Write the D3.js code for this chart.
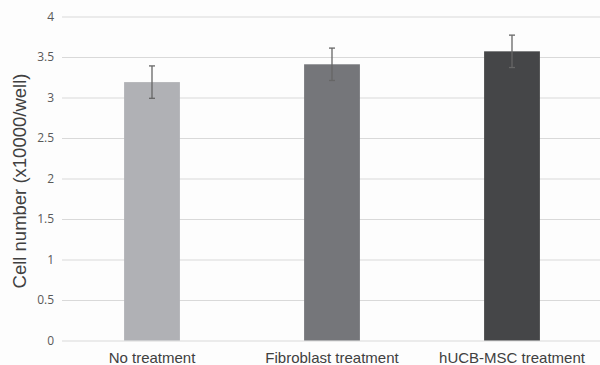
<!DOCTYPE html>
<html><head><meta charset="utf-8">
<script src="https://cdn.jsdelivr.net/npm/d3@7"></script>
<style>body{margin:0;background:#fdfdfd;}svg{display:block;}</style>
</head><body>
<script>
const categories = ["No treatment", "Fibroblast treatment", "hUCB-MSC treatment"];
const values = [3.19, 3.41, 3.57];
const errors = [0.2, 0.2, 0.2];
const colors = ["#b0b1b5", "#75767a", "#454648"];
const yTicks = [0, 0.5, 1, 1.5, 2, 2.5, 3, 3.5, 4];
const yTitle = "Cell number (x10000/well)";

const W = 600, H = 365;
const svg = d3.select("body").append("svg").attr("width", W).attr("height", H);
svg.append("rect").attr("width", W).attr("height", H).attr("fill", "#fdfdfd");

const x = d3.scaleBand().domain(categories).range([62, 602]).paddingInner(0.69).paddingOuter(0.345);
const y = d3.scaleLinear().domain([0, 4]).range([340.5, 16.5]);

const yAxis = svg.append("g").attr("transform", "translate(62,0)")
  .call(d3.axisLeft(y).tickValues(yTicks).tickSize(-540).tickFormat(d3.format("")).tickPadding(8));
yAxis.select(".domain").remove();
yAxis.selectAll("line").attr("stroke", "#d9d9d9").attr("stroke-width", 1.2);
yAxis.selectAll("text").attr("fill", "#595959").attr("font-family", "Open Sans").attr("font-size", "12px");

svg.selectAll("rect.bar").data(categories).enter().append("rect").attr("class", "bar")
  .attr("x", d => x(d)).attr("width", x.bandwidth())
  .attr("y", (d, i) => y(values[i])).attr("height", (d, i) => y(0) - y(values[i]))
  .attr("fill", (d, i) => colors[i]);

const eb = svg.append("g").attr("stroke", "#666").attr("stroke-width", 1.3);
categories.forEach((c, i) => {
  const cx = x(c) + x.bandwidth() / 2;
  eb.append("line").attr("x1", cx).attr("x2", cx).attr("y1", y(values[i] + errors[i])).attr("y2", y(values[i] - errors[i]));
  [values[i] + errors[i], values[i] - errors[i]].forEach(v => {
    eb.append("line").attr("x1", cx - 3).attr("x2", cx + 3).attr("y1", y(v)).attr("y2", y(v));
  });
});

const xAxis = svg.append("g").attr("transform", `translate(0,${y(0)})`)
  .call(d3.axisBottom(x).tickSize(0).tickPadding(11.5));
xAxis.select(".domain").remove();
xAxis.selectAll("text").attr("fill", "#404040").attr("font-family", "'Liberation Sans', Arial, sans-serif").attr("font-size", "15px");

svg.append("text").attr("transform", "translate(26,181) rotate(-90)")
  .attr("text-anchor", "middle").attr("fill", "#404040")
  .attr("font-family", "'Liberation Sans', Arial, sans-serif").attr("font-size", "18.5px").text(yTitle);
</script>
</body></html>
